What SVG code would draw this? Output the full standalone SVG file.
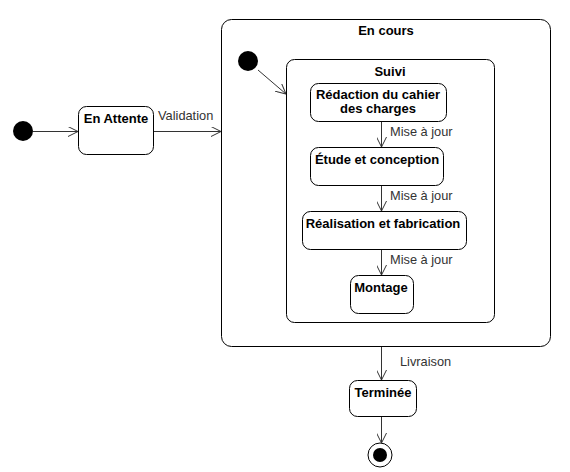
<svg xmlns="http://www.w3.org/2000/svg" width="570" height="472" viewBox="0 0 570 472">
<style>
.st{fill:#fff;stroke:#000;stroke-width:1}
.t{font-family:"Liberation Sans",Arial,sans-serif;font-size:13px;font-weight:bold;text-anchor:middle;fill:#000}
.l{font-family:"Liberation Sans",Arial,sans-serif;font-size:12.8px;fill:#333}
.e{fill:none;stroke:#333;stroke-width:1}
</style>
<defs>
<marker id="a" viewBox="0 0 10 10" refX="10" refY="5" markerWidth="10" markerHeight="10" markerUnits="userSpaceOnUse" orient="auto">
<path d="M0,0 L10,5 L0,10" fill="none" stroke="#333" stroke-width="1"/>
</marker>
</defs>
<rect width="570" height="472" fill="#fff"/>
<g id="init"><circle cx="23" cy="131" r="10" fill="#000"/></g>
<g id="enattente"><rect class="st" x="78.5" y="106.5" width="75" height="48" rx="8"/><text class="t" x="116" y="123">En Attente</text></g>
<g id="encours"><rect class="st" x="221.5" y="19.5" width="329" height="327" rx="10"/><text class="t" x="386" y="35">En cours</text></g>
<g id="init2"><circle cx="248" cy="61" r="10" fill="#000"/></g>
<g id="suivi"><rect class="st" x="286.5" y="59.5" width="208" height="263" rx="8"/><text class="t" x="390" y="76">Suivi</text></g>
<g id="redaction"><rect class="st" x="310.5" y="83.5" width="136" height="38" rx="8"/><text class="t" x="378" y="99">Rédaction du cahier</text><text class="t" x="378" y="113">des charges</text></g>
<g id="etude"><rect class="st" x="310.5" y="147.5" width="133" height="38" rx="8"/><text class="t" x="377" y="164">Étude et conception</text></g>
<g id="realisation"><rect class="st" x="302.5" y="211.5" width="164" height="38" rx="8"/><text class="t" x="383" y="228">Réalisation et fabrication</text></g>
<g id="montage"><rect class="st" x="350.5" y="275.5" width="63" height="38" rx="8"/><text class="t" x="381" y="292">Montage</text></g>
<g id="terminee"><rect class="st" x="349.5" y="380.5" width="67" height="36" rx="8"/><text class="t" x="383" y="397">Terminée</text></g>
<g id="final"><circle cx="380" cy="455" r="12" fill="#fff" stroke="#000" stroke-width="1"/><circle cx="380" cy="455" r="7" fill="#000"/></g>
<g id="connectors">
<line class="e" x1="33" y1="131.5" x2="78" y2="131.5" marker-end="url(#a)"/>
<line class="e" x1="154" y1="131.5" x2="221" y2="131.5" marker-end="url(#a)"/>
<text class="l" x="158" y="120">Validation</text>
<line class="e" x1="258" y1="70" x2="286" y2="94" marker-end="url(#a)"/>
<line class="e" x1="381.5" y1="122" x2="381.5" y2="147" marker-end="url(#a)"/>
<text class="l" x="390" y="136">Mise à jour</text>
<line class="e" x1="381.5" y1="186" x2="381.5" y2="211" marker-end="url(#a)"/>
<text class="l" x="390" y="200">Mise à jour</text>
<line class="e" x1="381.5" y1="250" x2="381.5" y2="275" marker-end="url(#a)"/>
<text class="l" x="390" y="264">Mise à jour</text>
<line class="e" x1="381.5" y1="347" x2="381.5" y2="380" marker-end="url(#a)"/>
<text class="l" x="400" y="366">Livraison</text>
<line class="e" x1="381.5" y1="417" x2="381.5" y2="443" marker-end="url(#a)"/>
</g>
</svg>
